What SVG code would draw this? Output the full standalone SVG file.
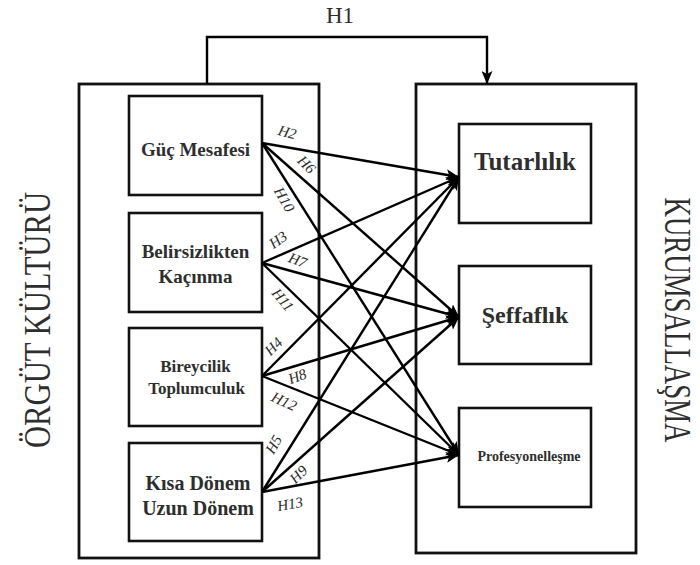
<svg xmlns="http://www.w3.org/2000/svg" width="700" height="565" viewBox="0 0 700 565">
<defs>
<marker id="arr" markerUnits="userSpaceOnUse" markerWidth="13" markerHeight="11" refX="13" refY="5.5" orient="auto">
<path d="M0,0 L13,5.5 L0,11 L3,5.5 z" fill="#000"/>
</marker>
<style>
.box{fill:#fff;stroke:#111;stroke-width:2.6}
.outer{fill:none;stroke:#111;stroke-width:2.8}
.ln{stroke:#000;stroke-width:2.4;fill:none}
.t{font-family:"Liberation Serif","Times New Roman",serif;fill:#2e2e2e;text-anchor:middle}
.b{font-weight:bold}
.h{font-family:"Liberation Serif","Times New Roman",serif;font-size:15px;fill:#2a2a2a;text-anchor:middle;font-style:italic}
</style>
</defs>
<rect width="700" height="565" fill="#fff"/>

<g id="orgut-kulturu">
<rect class="outer" x="79" y="84" width="240" height="474"/>
<text class="t" font-size="37" transform="translate(50,320) rotate(-90)" textLength="256" lengthAdjust="spacingAndGlyphs">ÖRGÜT KÜLTÜRÜ</text>
</g>
<g id="kurumsallasma">
<rect class="outer" x="416" y="84" width="220" height="469"/>
<text class="t" font-size="37" transform="translate(665,320) rotate(90)" textLength="245" lengthAdjust="spacingAndGlyphs">KURUMSALLAŞMA</text>
</g>

<g id="guc-mesafesi">
<rect class="box" x="129" y="96" width="133" height="99"/>
<text class="t b" font-size="19" x="195.5" y="156">Güç Mesafesi</text>
</g>
<g id="belirsizlikten-kacinma">
<rect class="box" x="129" y="213" width="133" height="99"/>
<text class="t b" font-size="19" x="195.5" y="258">Belirsizlikten</text>
<text class="t b" font-size="19" x="195.5" y="283">Kaçınma</text>
</g>
<g id="bireycilik-toplumculuk">
<rect class="box" x="129" y="328" width="133" height="98"/>
<text class="t b" font-size="17" x="195.5" y="372">Bireycilik</text>
<text class="t b" font-size="17" x="196.5" y="394">Toplumculuk</text>
</g>
<g id="kisa-uzun-donem">
<rect class="box" x="129" y="443" width="133" height="98"/>
<text class="t b" font-size="20" x="198" y="490">Kısa Dönem</text>
<text class="t b" font-size="20" x="198" y="515">Uzun Dönem</text>
</g>

<g id="tutarlilik">
<rect class="box" x="459" y="124" width="132" height="99"/>
<text class="t b" font-size="25" x="525" y="170">Tutarlılık</text>
</g>
<g id="seffaflik">
<rect class="box" x="459" y="266" width="132" height="98"/>
<text class="t b" font-size="24" x="525" y="323">Şeffaflık</text>
</g>
<g id="profesyonellesme">
<rect class="box" x="459" y="408" width="132" height="99"/>
<text class="t b" font-size="14" x="529" y="461">Profesyonelleşme</text>
</g>

<g id="connectors">
<path class="ln" d="M207,84 V37 H487 V84" marker-end="url(#arr)"/>
<text class="t" font-size="23" x="340" y="23">H1</text>

<line class="ln" x1="262" y1="143" x2="459" y2="177" marker-end="url(#arr)"/>
<line class="ln" x1="262" y1="143" x2="459" y2="317" marker-end="url(#arr)"/>
<line class="ln" x1="262" y1="143" x2="459" y2="455" marker-end="url(#arr)"/>
<line class="ln" x1="262" y1="263" x2="459" y2="177" marker-end="url(#arr)"/>
<line class="ln" x1="262" y1="263" x2="459" y2="317" marker-end="url(#arr)"/>
<line class="ln" x1="262" y1="263" x2="459" y2="455" marker-end="url(#arr)"/>
<line class="ln" x1="262" y1="376" x2="459" y2="177" marker-end="url(#arr)"/>
<line class="ln" x1="262" y1="376" x2="459" y2="317" marker-end="url(#arr)"/>
<line class="ln" x1="262" y1="376" x2="459" y2="455" marker-end="url(#arr)"/>
<line class="ln" x1="262" y1="492" x2="459" y2="177" marker-end="url(#arr)"/>
<line class="ln" x1="262" y1="492" x2="459" y2="317" marker-end="url(#arr)"/>
<line class="ln" x1="262" y1="492" x2="459" y2="455" marker-end="url(#arr)"/>

<text class="h" transform="translate(286,137) rotate(15)">H2</text>
<text class="h" transform="translate(303,168) rotate(45)">H6</text>
<text class="h" transform="translate(280,202) rotate(60)">H10</text>
<text class="h" transform="translate(281,244) rotate(-35)">H3</text>
<text class="h" transform="translate(296,265) rotate(20)">H7</text>
<text class="h" transform="translate(279,303) rotate(50)">H11</text>
<text class="h" transform="translate(277,350) rotate(-45)">H4</text>
<text class="h" transform="translate(299,381) rotate(-20)">H8</text>
<text class="h" transform="translate(282,406) rotate(25)">H12</text>
<text class="h" transform="translate(278,447) rotate(-60)">H5</text>
<text class="h" transform="translate(302,478) rotate(-45)">H9</text>
<text class="h" transform="translate(291,509) rotate(-10)">H13</text>
</g>
</svg>
